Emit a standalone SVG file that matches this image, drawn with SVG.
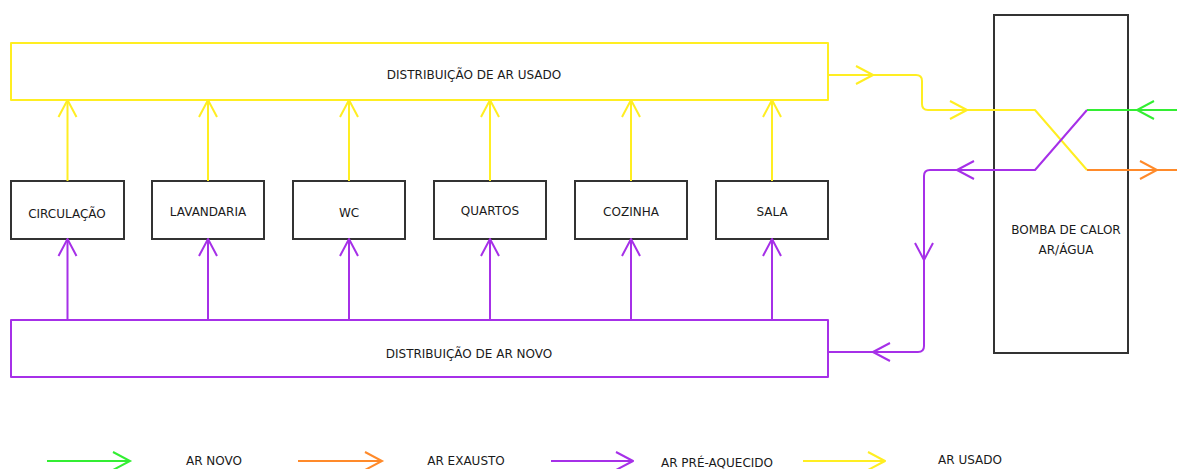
<svg xmlns="http://www.w3.org/2000/svg" xmlns:xlink="http://www.w3.org/1999/xlink" width="1177" height="469" viewBox="0 0 1177 469">
<style>
text{font-family:"DejaVu Sans",Verdana,sans-serif;font-size:12px;fill:#1a1a1a;text-anchor:middle}
.n{fill:#fff;stroke:#333;stroke-width:2}
.y{stroke:#FFEE22;fill:none;stroke-width:2;stroke-linejoin:round}
.p{stroke:#A630E8;fill:none;stroke-width:2;stroke-linejoin:round}
.g{stroke:#33EE33;fill:none;stroke-width:2}
.o{stroke:#FF8A2A;fill:none;stroke-width:2}
</style>
<defs>
<path id="ch" d="M-17,-9 L0,0 L-17,9"/>
</defs>
<rect width="1177" height="469" fill="#fff"/>
<g id="dist-usado">
<rect x="11" y="43" width="817" height="57" class="y" fill="#fff"/>
<text x="474" y="79">DISTRIBUIÇÃO DE AR USADO</text>
</g>
<g id="dist-novo">
<rect x="11" y="320" width="817" height="57" class="p" fill="#fff"/>
<text x="469" y="358">DISTRIBUIÇÃO DE AR NOVO</text>
</g>
<g id="circulacao"><rect x="11" y="181" width="113" height="58" class="n"/><text x="67" y="218">CIRCULAÇÃO</text></g>
<g id="lavandaria"><rect x="152" y="181" width="112" height="58" class="n"/><text x="208" y="216">LAVANDARIA</text></g>
<g id="wc"><rect x="293" y="181" width="112" height="58" class="n"/><text x="349" y="217">WC</text></g>
<g id="quartos"><rect x="434" y="181" width="112" height="58" class="n"/><text x="490" y="215">QUARTOS</text></g>
<g id="cozinha"><rect x="575" y="181" width="112" height="58" class="n"/><text x="631" y="216">COZINHA</text></g>
<g id="sala"><rect x="716" y="181" width="112" height="58" class="n"/><text x="772" y="216">SALA</text></g>
<g id="bomba">
<rect x="994" y="15" width="134" height="338" class="n" fill="none"/>
<text x="1066" y="234">BOMBA DE CALOR</text>
<text x="1066" y="254">AR/ÁGUA</text>
</g>
<g id="connectors">
<g class="y">
<path d="M67.5,181V100M208,181V100M349,181V100M490,181V100M631,181V100M772,181V100"/>
<use href="#ch" transform="translate(67.5,100) rotate(-90)"/>
<use href="#ch" transform="translate(208,100) rotate(-90)"/>
<use href="#ch" transform="translate(349,100) rotate(-90)"/>
<use href="#ch" transform="translate(490,100) rotate(-90)"/>
<use href="#ch" transform="translate(631,100) rotate(-90)"/>
<use href="#ch" transform="translate(772,100) rotate(-90)"/>
<path d="M828,75H916Q922,75 922,81V104Q922,110 928,110H1035L1087,170"/>
<use href="#ch" transform="translate(873,75)"/>
<use href="#ch" transform="translate(967,110)"/>
</g>
<g class="p">
<path d="M67.5,320V239M208,320V239M349,320V239M490,320V239M631,320V239M772,320V239"/>
<use href="#ch" transform="translate(67.5,239) rotate(-90)"/>
<use href="#ch" transform="translate(208,239) rotate(-90)"/>
<use href="#ch" transform="translate(349,239) rotate(-90)"/>
<use href="#ch" transform="translate(490,239) rotate(-90)"/>
<use href="#ch" transform="translate(631,239) rotate(-90)"/>
<use href="#ch" transform="translate(772,239) rotate(-90)"/>
<path d="M1087,110L1035,170H930Q924,170 924,176V346Q924,352 918,352H828"/>
<use href="#ch" transform="translate(957,170) rotate(180)"/>
<use href="#ch" transform="translate(924,260) rotate(90)"/>
<use href="#ch" transform="translate(873,352) rotate(180)"/>
</g>
<g class="g">
<path d="M1177,110H1087"/>
<use href="#ch" transform="translate(1137,110) rotate(180)"/>
</g>
<g class="o">
<path d="M1087,170H1177"/>
<use href="#ch" transform="translate(1157,170)"/>
</g>
</g>
<g id="legenda">
<g class="g"><path d="M47,461H130"/><use href="#ch" transform="translate(130,461)"/></g>
<text x="214" y="465">AR NOVO</text>
<g class="o"><path d="M298,461H382"/><use href="#ch" transform="translate(382,461)"/></g>
<text x="466" y="465">AR EXAUSTO</text>
<g class="p"><path d="M551,461H633"/><use href="#ch" transform="translate(633,461)"/></g>
<text x="717" y="467">AR PRÉ-AQUECIDO</text>
<g class="y"><path d="M803,461H885"/><use href="#ch" transform="translate(885,461)"/></g>
<text x="970" y="464">AR USADO</text>
</g>
</svg>
